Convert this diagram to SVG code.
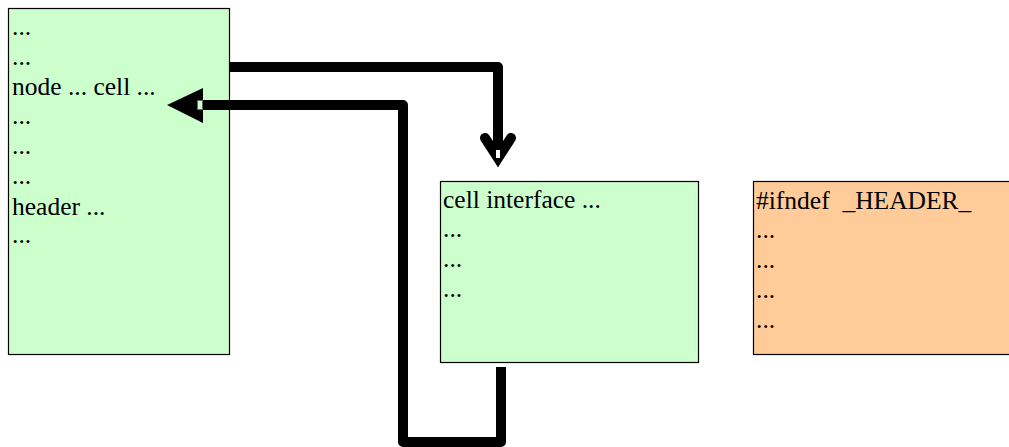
<svg xmlns="http://www.w3.org/2000/svg" width="1009" height="447" viewBox="0 0 1009 447">
<style>
.t{font-family:"Liberation Serif","Times New Roman",serif;font-size:25.5px;fill:#000;white-space:pre}
.g{fill:#ccffcc;stroke:#000;stroke-width:1.2}
.o{fill:#ffcc99;stroke:#000;stroke-width:1.2}
.c{fill:none;stroke:#000;stroke-width:10;stroke-linejoin:round}
</style>
<rect width="1009" height="447" fill="#fff"/>
<g id="source">
<rect class="g" x="8.5" y="8.5" width="221" height="346"/>
<text class="t" x="12" y="35">...</text>
<text class="t" x="12" y="65">...</text>
<text class="t" x="12" y="95">node ... cell ...</text>
<text class="t" x="12" y="124">...</text>
<text class="t" x="12" y="154">...</text>
<text class="t" x="12" y="184">...</text>
<text class="t" x="12" y="215">header ...</text>
<text class="t" x="12" y="243">...</text>
</g>
<g id="cell">
<rect class="g" x="440.5" y="181.5" width="258" height="181"/>
<text class="t" x="443" y="208">cell interface ...</text>
<text class="t" x="443" y="237">...</text>
<text class="t" x="443" y="267">...</text>
<text class="t" x="443" y="297">...</text>
</g>
<g id="header">
<rect class="o" x="753.5" y="181.5" width="262" height="173"/>
<text class="t" x="756" y="209" xml:space="preserve">#ifndef  _HEADER_</text>
<text class="t" x="756" y="238">...</text>
<text class="t" x="756" y="268">...</text>
<text class="t" x="756" y="298">...</text>
<text class="t" x="756" y="328">...</text>
</g>
<g id="connectors">
<path class="c" d="M229,67 H498 V150"/>
<path d="M485,138 L498,158 L511,138" fill="none" stroke="#000" stroke-width="10" stroke-linecap="round" stroke-linejoin="miter"/>
<path d="M484,142 L498,167 L512,142 Z" fill="#000"/>
<path d="M496,150 h4 v8 h-4 z" fill="#fff"/>
<path class="c" d="M501,367 V442 H403 V105 H203"/>
<path d="M203,88 L167,105 L203,123 Z" fill="#000"/>
<rect x="197.5" y="100.5" width="5" height="9" fill="#ccffcc" stroke="#666" stroke-width="1"/>
</g>
</svg>
